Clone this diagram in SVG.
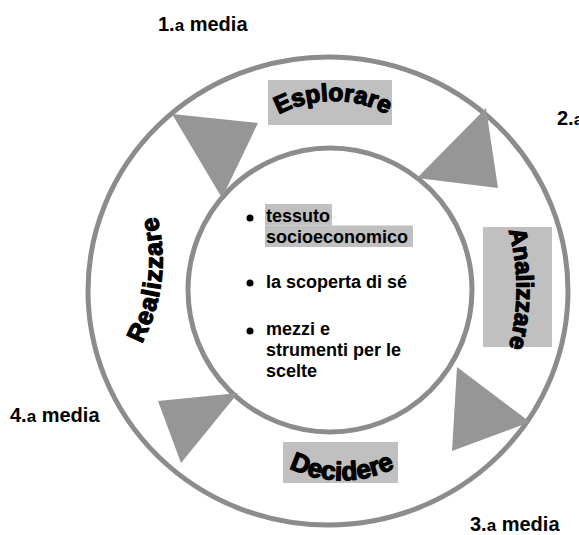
<svg xmlns="http://www.w3.org/2000/svg" width="579" height="535" viewBox="0 0 579 535">
<style>
.ring{fill:none;stroke:#8c8c8c;stroke-width:5}
.tri{fill:#969696;stroke:none}
.box{fill:#c0c0c0}
.lbl{font-family:"Liberation Sans",Arial,sans-serif;font-weight:bold;font-size:20px;fill:#000}
.sm{font-size:17px}
.wa{font-family:"Liberation Sans",Arial,sans-serif;font-weight:bold;fill:#000;stroke:#000;stroke-width:1.3;stroke-linejoin:round}
.body{font-family:"Liberation Sans",Arial,sans-serif;font-weight:bold;font-size:18px;fill:#000}
</style>
<defs>
<path id="pE" d="M 276 116 A 115 115 0 0 1 390 116"/>
<path id="pA" d="M 508 228 A 220 220 0 0 1 508 350"/>
<path id="pR" d="M 140 347 A 180 180 0 0 0 156 212"/>
<path id="pD" d="M 287 467 A 120 120 0 0 0 397 467"/>
</defs>
<g id="rings">
<ellipse class="ring" cx="328" cy="291" rx="240" ry="234"/>
<circle class="ring" cx="330" cy="290" r="142"/>
</g>
<g id="connectors">
<polygon class="tri" points="172,114 258,123 222,198"/>
<polygon class="tri" points="486,108 417,178 498,188"/>
<polygon class="tri" points="457,367 530,422 452,451"/>
<polygon class="tri" points="158,401 238,393 181,463"/>
</g>
<g id="node-esplorare">
<rect class="box" x="268" y="80" width="124" height="45"/>
<text class="wa" font-size="24.5"><textPath href="#pE" startOffset="50%" text-anchor="middle">Esplorare</textPath></text>
</g>
<g id="node-analizzare">
<rect class="box" x="483" y="227" width="69" height="120"/>
<text class="wa" font-size="24"><textPath href="#pA" startOffset="50%" text-anchor="middle">Analizzare</textPath></text>
</g>
<g id="node-decidere">
<rect class="box" x="283" y="442" width="115" height="41"/>
<text class="wa" font-size="26"><textPath href="#pD" startOffset="50%" text-anchor="middle">Decidere</textPath></text>
</g>
<g id="node-realizzare">
<text class="wa" font-size="25" letter-spacing="1"><textPath href="#pR" startOffset="50%" text-anchor="middle">Realizzare</textPath></text>
</g>
<g id="node-center">
<rect class="box" x="265" y="204" width="67" height="21.5"/>
<rect class="box" x="265" y="225.5" width="148" height="21.5"/>
<circle cx="250" cy="218" r="3.5" fill="#000"/>
<circle cx="250" cy="283" r="3.5" fill="#000"/>
<circle cx="250" cy="331" r="3.5" fill="#000"/>
<text class="body" x="266" y="222">tessuto</text>
<text class="body" x="266" y="243">socioeconomico</text>
<text class="body" x="266" y="288">la scoperta di sé</text>
<text class="body" x="266" y="335">mezzi e</text>
<text class="body" x="266" y="356">strumenti per le</text>
<text class="body" x="266" y="377">scelte</text>
</g>
<g id="labels">
<text class="lbl" x="158" y="31">1.<tspan class="sm">a</tspan> media</text>
<text class="lbl" x="557" y="125">2.<tspan class="sm">a</tspan> media</text>
<text class="lbl" x="470" y="531">3.<tspan class="sm">a</tspan> media</text>
<text class="lbl" x="10" y="422">4.<tspan class="sm">a</tspan> media</text>
</g>
</svg>
